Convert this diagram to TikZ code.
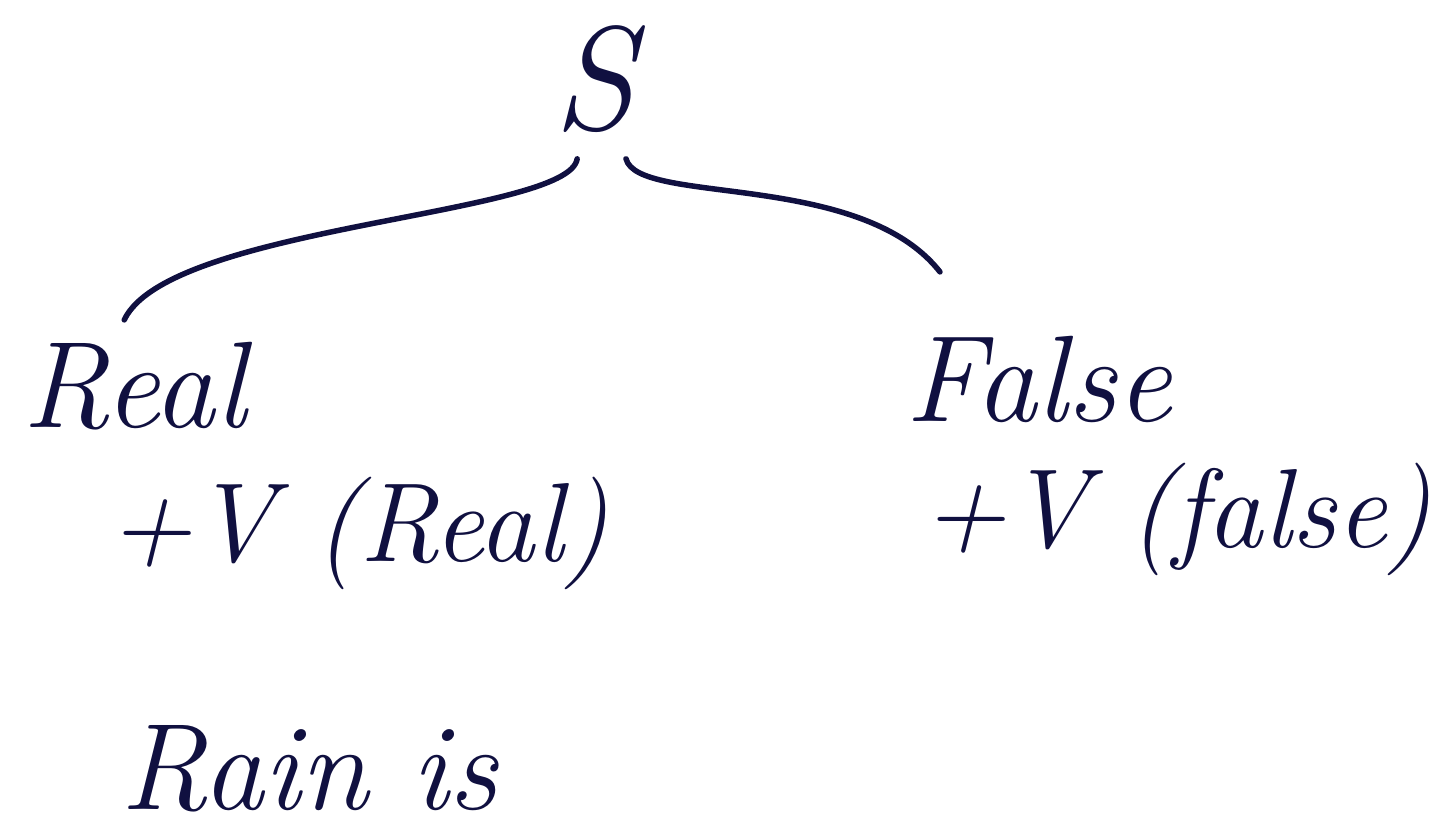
\documentclass[tikz,border=0pt]{standalone}
\definecolor{ink}{RGB}{16,16,64}
\begin{document}
\begin{tikzpicture}[
  x=0.1mm, y=-0.1mm,
  line join=round,
  line cap=round,
  branch/.style={draw=ink,line width=0.55mm},
  word/.style={text=ink,font=\itshape\fontsize{35}{40}\selectfont,inner sep=1mm},
  small/.style={word,font=\itshape\fontsize{32}{36}\selectfont}
]
  \useasboundingbox (0,0) rectangle (1452,837);

  % Root symbol.
  \node[word,font=\itshape\fontsize{42}{50}\selectfont,inner sep=2.5mm,anchor=base] (S) at (594,130) {S};

  % The two readings.
  \node[word,anchor=base west] (real) at (12,428) {Real};
  \node[word,anchor=base west] (false) at (895,422) {False};
  \node[small,anchor=base west] (realv) at (98,562) {+V (Real)};
  \node[small,anchor=base west] (falsev) at (912,548) {+V (false)};
  \node[word,anchor=base west] (rain) at (110,810) {Rain is};

  % Loose ends of the branches.
  \coordinate (realtip) at ([shift={(-10,-12)}]real.north);
  \coordinate (falsetip) at ([shift={(45,-54)}]false.north west);

  \draw[branch] (S.258) .. controls +(-8,57) and +(45,-95) .. (realtip);
  \draw[branch] (S.292) .. controls +(12,47) and +(-80,-102) .. (falsetip);
\end{tikzpicture}
\end{document}
